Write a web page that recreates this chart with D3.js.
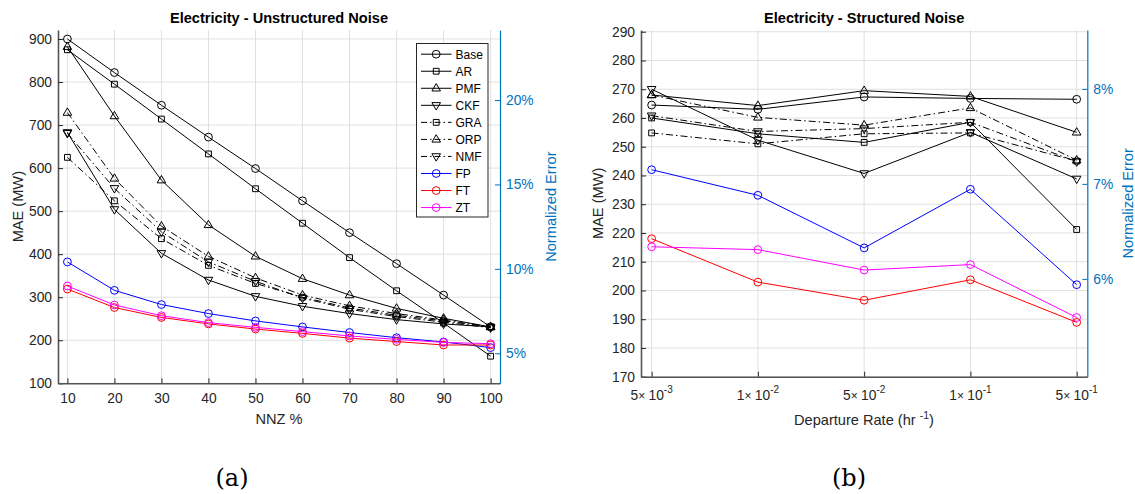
<!DOCTYPE html>
<html><head><meta charset="utf-8">
<script src="https://cdn.jsdelivr.net/npm/d3@7"></script>
<style>
body{margin:0;background:#fff;}
svg text{font-family:"Liberation Sans",Arial,Helvetica,sans-serif;}
</style></head>
<body><svg id="c" width="1135" height="494"></svg>
<script>
// ---------- data ----------
const nnz = [10,20,30,40,50,60,70,80,90,100];
const rateIdx = [1,2,3,4,5];
const rateMant = ["5","1","5","1","5"];
const rateExp = ["-3","-2","-2","-1","-1"];
const seriesNames = ["Base","AR","PMF","CKF","GRA","ORP","NMF","FP","FT","ZT"];

// Panel (a) Unstructured noise, MAE (MW)
const baseU = [900,822,746,672,599,524,450,378,305,231];
const arU   = [875,795,714,633,552,472,392,315,240,163];
const pmfU  = [882,721,572,468,395,343,305,274,251,231];
const ckfU  = [683,504,402,340,302,279,262,248,238,231];
const graU  = [625,524,436,374,332,300,275,258,245,231];
const orpU  = [729,576,465,395,345,305,280,262,247,231];
const nmfU  = [681,553,452,382,337,298,272,255,242,229];
const fpU   = [382,316,283,262,245,231,218,206,196,183];
const ftU   = [319,276,253,238,226,216,205,197,189,189];
const ztU   = [326,282,257,241,230,220,210,202,195,192];

// Panel (b) Structured noise, MAE (MW)
const baseS = [264.5,263.0,267.3,266.8,266.5];
const arS   = [260.0,254.5,251.5,258.5,221.2];
const pmfS  = [268.0,264.3,269.5,267.5,255.0];
const ckfS  = [270.0,252.3,240.7,255.0,238.8];
const graS  = [254.8,251.0,254.5,254.8,245.0];
const orpS  = [268.0,260.2,257.5,263.5,245.3];
const nmfS  = [260.8,255.3,256.3,258.5,244.8];
const fpS   = [242.0,233.1,214.8,235.2,202.0];
const ftS   = [218.0,202.9,196.6,203.7,188.9];
const ztS   = [215.2,214.2,207.1,209.0,190.6];

const yTicksA = [100,200,300,400,500,600,700,800,900];
const yRTicksA = [5,10,15,20];
const yTicksB = [170,180,190,200,210,220,230,240,250,260,270,280,290];
const yRTicksB = [6,7,8];

// ---------- styles ----------
const styles = {
  Base:{color:"#000",marker:"circle",dash:null},
  AR:{color:"#000",marker:"square",dash:null},
  PMF:{color:"#000",marker:"up",dash:null},
  CKF:{color:"#000",marker:"down",dash:null},
  GRA:{color:"#000",marker:"square",dash:"7,3,1.5,3"},
  ORP:{color:"#000",marker:"up",dash:"7,3,1.5,3"},
  NMF:{color:"#000",marker:"down",dash:"7,3,1.5,3"},
  FP:{color:"#0000ff",marker:"circle",dash:null},
  FT:{color:"#ff0000",marker:"circle",dash:null},
  ZT:{color:"#ff00ff",marker:"circle",dash:null}
};
const axisCol = "#262626", gridCol = "#e0e0e0", rCol = "#0072BD";
const tickFont = "13.8px";

const svg = d3.select("#c");

function markerPath(m){
  if(m==="square") return "M-2.9,-2.9H2.9V2.9H-2.9Z";
  if(m==="up") return "M0,-4.7L4.3,2.7L-4.3,2.7Z";
  if(m==="down") return "M0,4.7L4.3,-2.7L-4.3,-2.7Z";
  return null;
}
function drawMarker(g,m,x,y,color){
  if(m==="circle"){
    g.append("circle").attr("cx",x).attr("cy",y).attr("r",3.9)
      .attr("fill","none").attr("stroke",color).attr("stroke-width",1);
  } else {
    g.append("path").attr("d",markerPath(m)).attr("transform",`translate(${x},${y})`)
      .attr("fill","none").attr("stroke",color).attr("stroke-width",1);
  }
}

function panel(cfg){
  const g = svg.append("g");
  const {x,y,yR,L,R,T,B} = cfg;
  // grid
  cfg.xTicks.forEach(v=>{
    g.append("line").attr("x1",x(v)).attr("x2",x(v)).attr("y1",T).attr("y2",B)
      .attr("stroke",gridCol).attr("stroke-width",1);
  });
  cfg.yTicks.forEach(v=>{
    g.append("line").attr("x1",L).attr("x2",R).attr("y1",y(v)).attr("y2",y(v))
      .attr("stroke",gridCol).attr("stroke-width",1);
  });
  // series
  const line = d3.line().x((d,i)=>x(cfg.xs[i])).y(d=>y(d));
  cfg.series.forEach(([name,vals])=>{
    const s = styles[name];
    g.append("path").attr("d",line(vals)).attr("fill","none")
      .attr("stroke",s.color).attr("stroke-width",1)
      .attr("stroke-dasharray",s.dash);
    vals.forEach((v,i)=>drawMarker(g,s.marker,x(cfg.xs[i]),y(v),s.color));
  });
  // left axis
  const ax = g.append("g").attr("transform",`translate(${L},0)`)
    .call(d3.axisLeft(y).tickValues(cfg.yTicks).tickSizeInner(-5).tickSizeOuter(0).tickPadding(6));
  ax.select(".domain").attr("stroke","#555").attr("stroke-width",1.6);
  ax.selectAll(".tick line").attr("stroke",axisCol);
  ax.selectAll(".tick text").attr("fill",axisCol).style("font-size",tickFont).style("font-family","Liberation Sans, Arial, sans-serif");
  // bottom axis
  const bx = g.append("g").attr("transform",`translate(0,${B})`)
    .call(d3.axisBottom(x).tickValues(cfg.xTicks).tickSizeInner(-5).tickSizeOuter(0)
      .tickFormat(cfg.xFmt || (d=>d)).tickPadding(10));
  bx.select(".domain").attr("stroke","#555").attr("stroke-width",1.6);
  bx.selectAll(".tick line").attr("stroke",axisCol);
  bx.selectAll(".tick text").attr("fill",axisCol).style("font-size",tickFont).style("font-family","Liberation Sans, Arial, sans-serif");
  // right axis
  const rx = g.append("g").attr("transform",`translate(${R},0)`)
    .call(d3.axisRight(yR).tickValues(cfg.yRTicks).tickSizeInner(-5).tickSizeOuter(0)
      .tickFormat(d=>d+"%").tickPadding(6));
  rx.select(".domain").attr("stroke",rCol).attr("stroke-width",1.2);
  rx.selectAll(".tick line").attr("stroke",rCol);
  rx.selectAll(".tick text").attr("fill",rCol).style("font-size",tickFont).style("font-family","Liberation Sans, Arial, sans-serif");
  // title
  g.append("text").attr("x",(L+R)/2).attr("y",23).attr("text-anchor","middle")
    .attr("font-weight","bold").attr("font-size","14.6px").attr("fill","#000").text(cfg.title);
  // y labels
  g.append("text").attr("transform",`translate(${cfg.yLabX},${(T+B)/2}) rotate(-90)`)
    .attr("text-anchor","middle").attr("font-size","14.6px").attr("fill",axisCol).text("MAE (MW)");
  g.append("text").attr("transform",`translate(${cfg.yRLabX},${(T+B)/2}) rotate(-90)`)
    .attr("text-anchor","middle").attr("font-size","14.6px").attr("fill",rCol).text("Normalized Error");
  return g;
}

// ---------- panel (a) ----------
const xA = d3.scaleLinear().domain([8,102]).range([58,500]);
const yA = d3.scaleLinear().domain([100,920.9]).range([383.3,30]);
const yRA = d3.scaleLinear().domain([3.22,24.15]).range([383.3,30]);
const gA = panel({
  x:xA,y:yA,yR:yRA,L:58,R:500,T:30,B:383.3,
  xTicks:nnz,yTicks:yTicksA,yRTicks:yRTicksA,xs:nnz,
  title:"Electricity - Unstructured Noise",yLabX:22.6,yRLabX:556,
  series:[["Base",baseU],["AR",arU],["PMF",pmfU],["CKF",ckfU],["GRA",graU],["ORP",orpU],["NMF",nmfU],["FP",fpU],["FT",ftU],["ZT",ztU]]
});
gA.append("text").attr("x",279).attr("y",424).attr("text-anchor","middle")
  .attr("font-size","14.6px").attr("fill",axisCol).text("NNZ %");

// legend
const lg = gA.append("g");
lg.append("rect").attr("x",416.5).attr("y",43.5).attr("width",71.5).attr("height",173.5)
  .attr("fill","#fff").attr("stroke",axisCol).attr("stroke-width",1);
seriesNames.forEach((n,i)=>{
  const yy = 54.2 + i*17.04;
  const s = styles[n];
  lg.append("line").attr("x1",421).attr("x2",451.5).attr("y1",yy).attr("y2",yy)
    .attr("stroke",s.color).attr("stroke-width",1).attr("stroke-dasharray",s.dash ? "6,3,1.5,3" : null);
  drawMarker(lg,s.marker,436.2,yy,s.color);
  lg.append("text").attr("x",455.5).attr("y",yy+4.3).attr("font-size","12px").attr("fill","#000").text(n);
});

// ---------- panel (b) ----------
const xB = d3.scaleLinear().domain([0.9,5.1]).range([641,1087.3]);
const yB = d3.scaleLinear().domain([170,290.6]).range([376.7,30]);
const yRB = d3.scaleLinear().domain([4.97,8.62]).range([376.7,30]);
const gB = panel({
  x:xB,y:yB,yR:yRB,L:641,R:1087.3,T:30,B:376.7,
  xTicks:rateIdx,yTicks:yTicksB,yRTicks:yRTicksB,xs:rateIdx,xFmt:()=>"",
  title:"Electricity - Structured Noise",yLabX:603,yRLabX:1133,
  series:[["Base",baseS],["AR",arS],["PMF",pmfS],["CKF",ckfS],["GRA",graS],["ORP",orpS],["NMF",nmfS],["FP",fpS],["FT",ftS],["ZT",ztS]]
});
rateIdx.forEach((v,i)=>{
  const t = gB.append("text").attr("x",xB(v)).attr("y",400).attr("text-anchor","middle")
    .attr("font-size",tickFont).attr("fill",axisCol);
  t.append("tspan").text(rateMant[i]);
  t.append("tspan").attr("font-size","12px").text("\u00d7 ");
  t.append("tspan").text("10");
  t.append("tspan").attr("font-size","10px").attr("dy",-7).text(rateExp[i]);
});
const xl = gB.append("text").attr("x",864).attr("y",425).attr("text-anchor","middle")
  .attr("font-size","14.6px").attr("fill",axisCol);
xl.append("tspan").text("Departure Rate (hr ");
xl.append("tspan").attr("font-size","10.5px").attr("dy",-6).text("-1");
xl.append("tspan").attr("dy",6).text(")");

// captions
svg.append("text").attr("x",232).attr("y",486).attr("text-anchor","middle")
  .attr("font-size","24px").style("font-family","'DejaVu Serif','Liberation Serif',serif").style("font-weight","normal").text("(a)");
svg.append("text").attr("x",849).attr("y",486).attr("text-anchor","middle")
  .attr("font-size","24px").style("font-family","'DejaVu Serif','Liberation Serif',serif").style("font-weight","normal").text("(b)");
</script></body></html>
